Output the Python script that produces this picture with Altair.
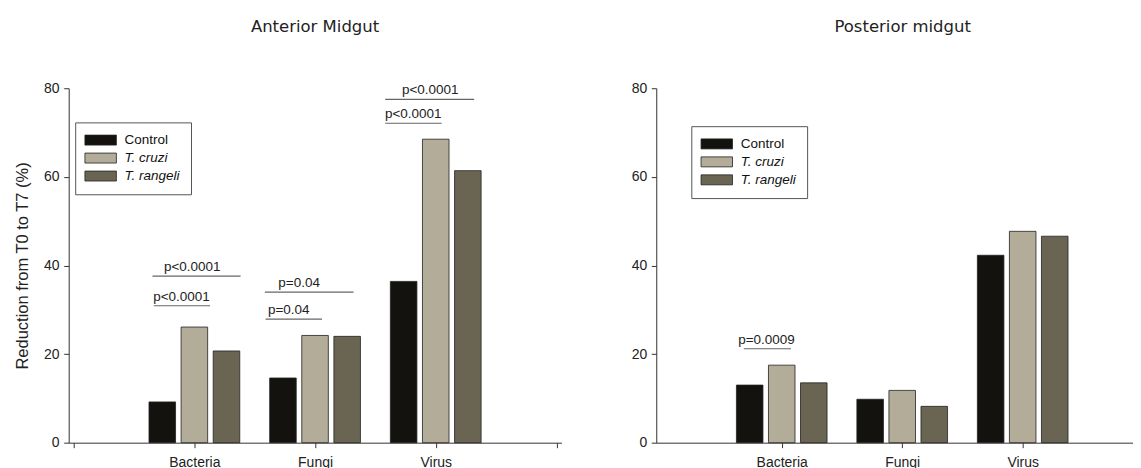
import json
import altair as alt
import pandas as pd

# ---------------- data ----------------
categories = ["Bacteria", "Fungi", "Virus"]
groups = ["Control", "T. cruzi", "T. rangeli"]
group_colors = ["#14120e", "#b2ac99", "#6a6552"]

anterior_control = [9.2, 14.6, 36.4]
anterior_cruzi = [26.1, 24.2, 68.5]
anterior_rangeli = [20.7, 24.0, 61.4]

posterior_control = [13.0, 9.8, 42.3]
posterior_cruzi = [17.5, 11.8, 47.7]
posterior_rangeli = [13.5, 8.2, 46.6]

# significance brackets (x in category units: Bacteria=1, Fungi=2, Virus=3)
anterior_sig_label = ["p<0.0001", "p<0.0001", "p=0.04", "p=0.04", "p<0.0001", "p<0.0001"]
anterior_sig_x1 = [0.653, 0.664, 1.584, 1.590, 2.581, 2.581]
anterior_sig_x2 = [1.383, 1.130, 2.319, 2.058, 3.318, 3.049]
anterior_sig_y = [37.6, 30.9, 34.0, 27.9, 77.5, 72.1]
anterior_sig_text_x = [0.982, 0.893, 1.868, 1.782, 2.954, 2.814]

posterior_sig_label = ["p=0.0009"]
posterior_sig_x1 = [0.685]
posterior_sig_x2 = [1.077]
posterior_sig_y = [21.2]
posterior_sig_text_x = [0.873]

GROUP_STEP = 0.266
FONT = "Liberation Sans"


def bar_frame(series):
    rows = []
    for gi, (g, vals) in enumerate(zip(groups, series)):
        for ci, (c, v) in enumerate(zip(categories, vals)):
            rows.append({"category": c, "cat_pos": ci + 1, "group": g, "g_idx": gi, "value": v})
    return pd.DataFrame(rows)


def sig_frame(labels, x1, x2, y, tx):
    return pd.DataFrame({"label": labels, "x1": x1, "x2": x2, "y": y, "tx": tx})


label_expr = json.dumps([""] + categories) + "[datum.value] || ''"
swatch = "M-1.6,-1H4.7V1H-1.6Z"


def panel(df, sig, title, x_max, width, x_ticks, ytitle, legend_x, legend_y, title_dx):
    xscale = alt.Scale(domain=[0, x_max], nice=False, zero=False)
    yscale = alt.Scale(domain=[0, 80], nice=False, zero=True)
    legend = alt.Legend(
        orient="none", legendX=legend_x, legendY=legend_y, title=None,
        strokeColor="#555", fillColor="white", padding=11,
        symbolType=swatch, symbolSize=100, symbolStrokeColor="#222",
        symbolStrokeWidth=0.8, symbolOpacity=1,
        labelFont=FONT, labelFontSize=13.5, labelColor="#111",
        labelOffset=25, rowPadding=3,
        labelFontStyle={"expr": "datum.label == 'Control' ? 'normal' : 'italic'"},
    )
    bars = alt.Chart(df).transform_calculate(
        xpos=f"datum.cat_pos + (datum.g_idx - 1) * {GROUP_STEP}"
    ).mark_bar(size=26.6, stroke="#222", strokeWidth=0.8, orient="vertical").encode(
        x=alt.X("xpos:Q", scale=xscale,
                axis=alt.Axis(values=x_ticks, labelExpr=label_expr, title=None,
                              grid=False, labelPadding=8, labelFont=FONT,
                              labelFontSize=14, labelColor="#222")),
        y=alt.Y("value:Q", scale=yscale,
                axis=alt.Axis(values=[0, 20, 40, 60, 80], title=ytitle, grid=False,
                              labelPadding=4.6, titlePadding=13,
                              labelFont=FONT, labelFontSize=14, labelColor="#222",
                              titleFont=FONT, titleFontSize=16.5,
                              titleFontWeight="normal", titleColor="#222")),
        y2=alt.datum(0),
        color=alt.Color("group:N", scale=alt.Scale(domain=groups, range=group_colors),
                        legend=legend),
    )
    rules = alt.Chart(sig).mark_rule(color="#666", strokeWidth=1.2).encode(
        x=alt.X("x1:Q", scale=xscale), x2="x2:Q", y=alt.Y("y:Q", scale=yscale)
    )
    texts = alt.Chart(sig).mark_text(font=FONT, fontSize=13.5, dy=-9, color="#222").encode(
        x=alt.X("tx:Q", scale=xscale), y=alt.Y("y:Q", scale=yscale), text="label:N"
    )
    return alt.layer(bars, rules, texts).properties(
        width=width, height=355,
        title=alt.TitleParams(title, font="DejaVu Sans", fontSize=16.5,
                              fontWeight="normal", color="#222", anchor="middle",
                              frame="group", baseline="alphabetic", offset=33, dx=title_dx),
    )


left = panel(
    bar_frame([anterior_control, anterior_cruzi, anterior_rangeli]),
    sig_frame(anterior_sig_label, anterior_sig_x1, anterior_sig_x2, anterior_sig_y, anterior_sig_text_x),
    "Anterior Midgut", 4, 493.5, [0, 1, 2, 3, 4], "Reduction from T0 to T7 (%)", 6.5, 34.2, 0,
)
right = panel(
    bar_frame([posterior_control, posterior_cruzi, posterior_rangeli]),
    sig_frame(posterior_sig_label, posterior_sig_x1, posterior_sig_x2, posterior_sig_y, posterior_sig_text_x),
    "Posterior midgut", 3.87, 477, [1, 2, 3], None, 35.1, 38, 8.3,
)

chart = alt.hconcat(left, right, spacing=68.5).resolve_scale(
    x="independent", y="independent"
).resolve_legend(color="independent").properties(
    padding={"left": 5.8, "top": 10, "right": 0, "bottom": 0}
).configure(background="white").configure_view(stroke=None).configure_axis(
    domainColor="#333", tickColor="#333", domainWidth=1, tickWidth=1, tickSize=5,
    labelFont=FONT, labelFontSize=14, labelColor="#222",
)

chart.save("out.html", embed_options={"renderer": "svg", "actions": False})
